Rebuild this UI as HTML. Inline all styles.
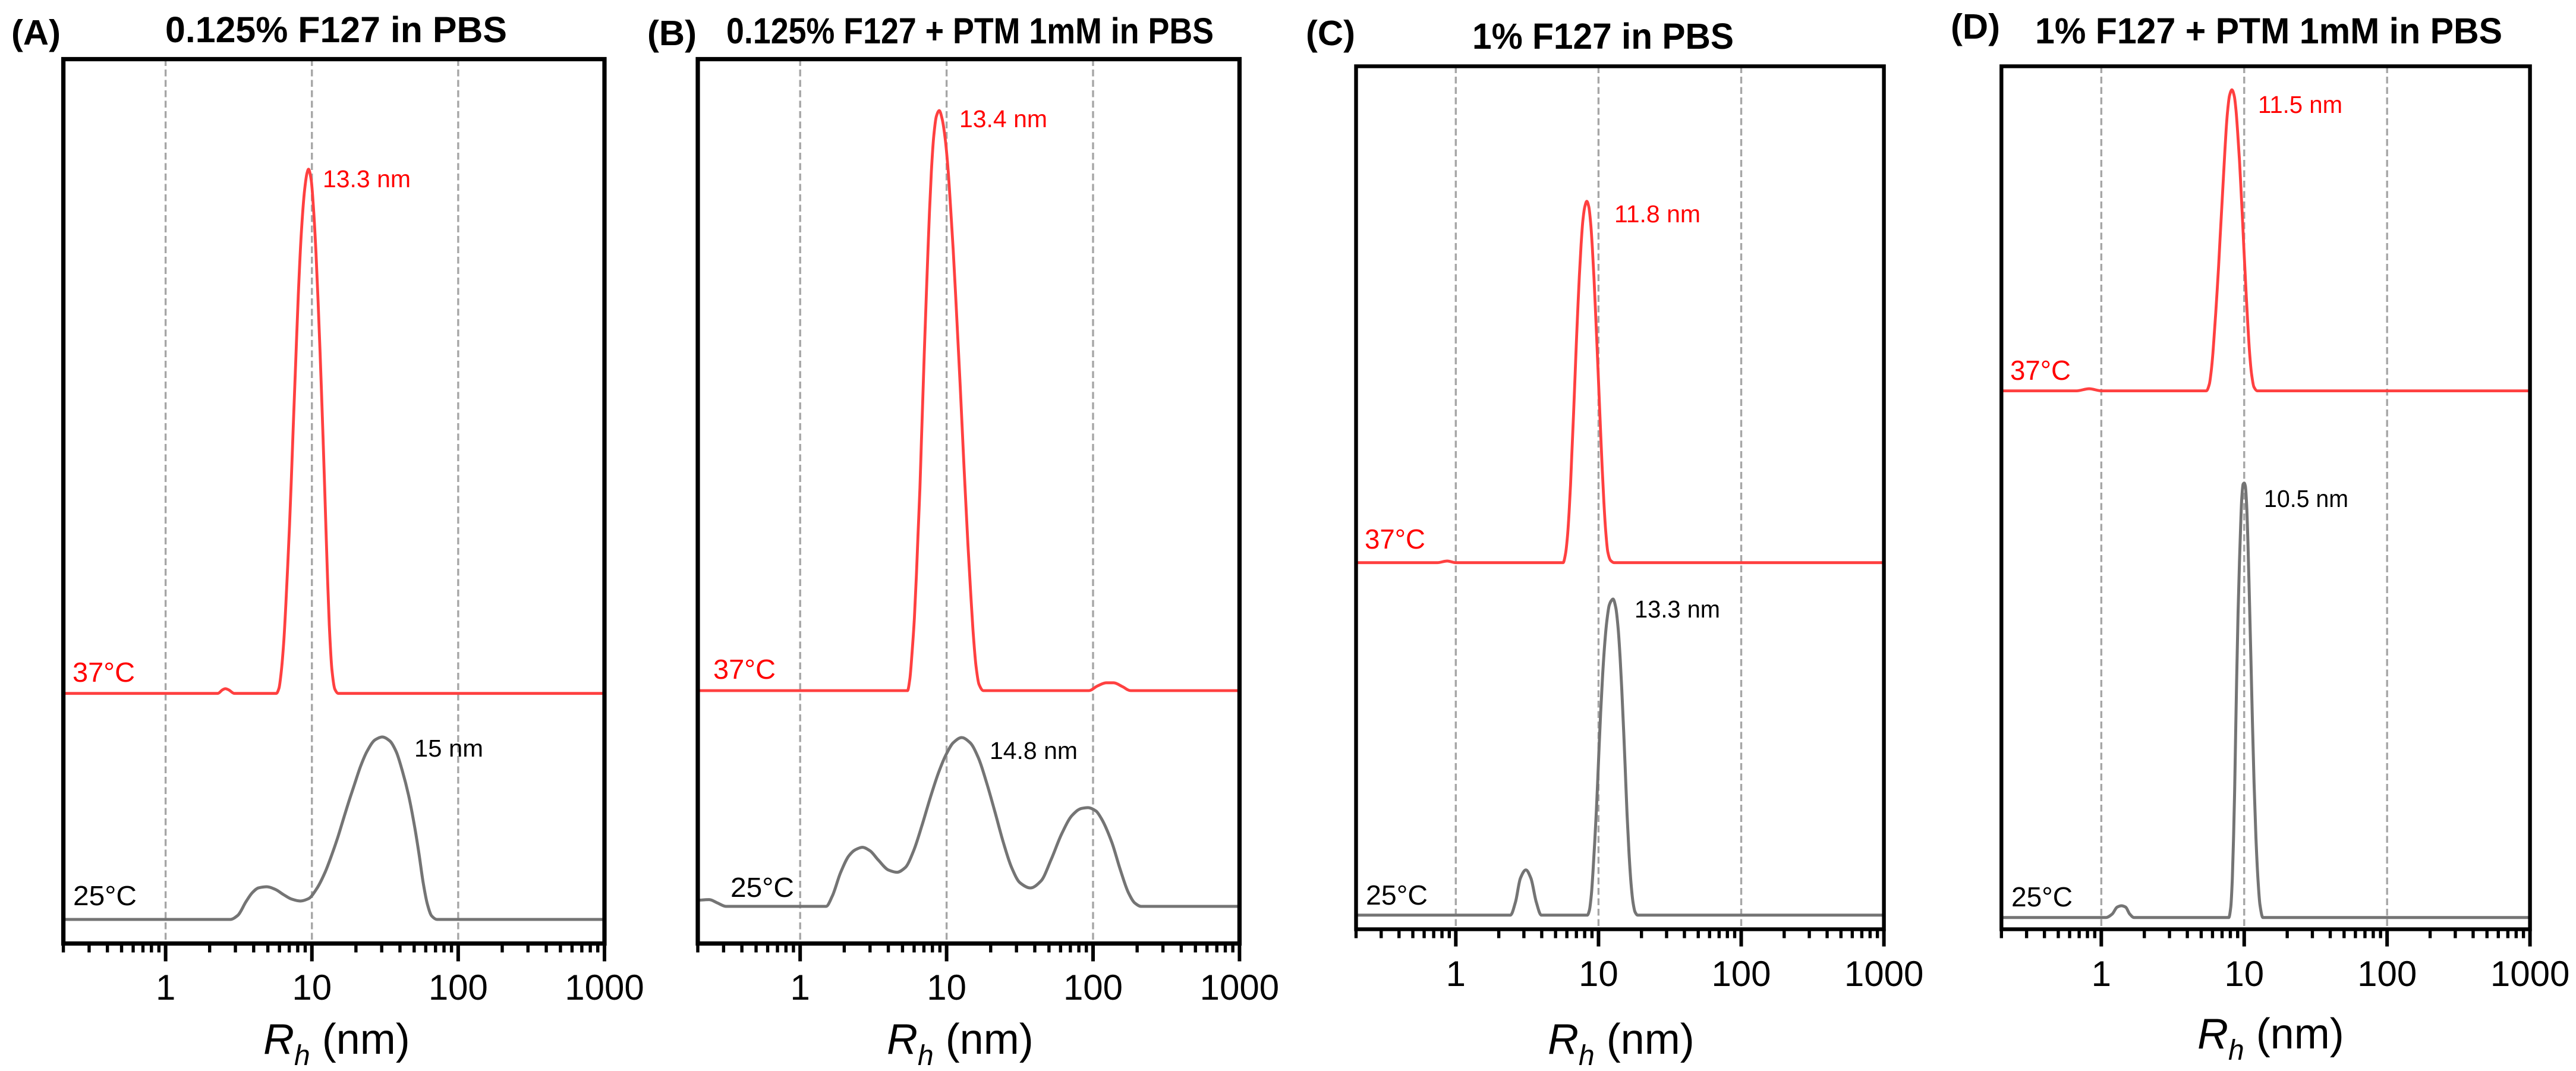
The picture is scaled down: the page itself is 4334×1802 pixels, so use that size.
<!DOCTYPE html>
<html lang="en">
<head>
<meta charset="utf-8">
<title>DLS size distributions of F127 micelles</title>
<style>
  html, body { margin: 0; padding: 0; background: #ffffff; }
  svg { display: block; }
  text { font-family: "Liberation Sans", sans-serif; }
  .title { font-size: 61px; font-weight: bold; fill: #000; }
  .panel-label { font-size: 59px; font-weight: bold; fill: #000; }
  .anno { font-size: 41px; }
  .temp { font-size: 46px; }
  .red { fill: #ff0000; }
  .black { fill: #000; }
  .xtitle { font-size: 72px; fill: #000; }
  .tick-label { font-size: 60px; fill: #000; text-anchor: middle; }
</style>
</head>
<body>
<svg id="figure" xmlns="http://www.w3.org/2000/svg" width="4334" height="1802" viewBox="0 0 4334 1802">
  <rect width="4334" height="1802" fill="#ffffff"/>

  <g id="panel-A"></g>
  <g id="panel-B"></g>
  <g id="panel-C"></g>
  <g id="panel-D"></g>

  <!-- Panel A text -->
  <text class="panel-label" x="19" y="75" textLength="83" lengthAdjust="spacingAndGlyphs">(A)</text>
  <text class="title" x="278" y="71" textLength="575" lengthAdjust="spacingAndGlyphs">0.125% F127 in PBS</text>
  <text class="anno red" x="543" y="315" textLength="148" lengthAdjust="spacingAndGlyphs">13.3 nm</text>
  <text class="anno black" x="697" y="1273" textLength="116" lengthAdjust="spacingAndGlyphs">15 nm</text>
  <text class="temp red" x="122" y="1147" textLength="105" lengthAdjust="spacingAndGlyphs">37°C</text>
  <text class="temp black" x="123" y="1523" textLength="107" lengthAdjust="spacingAndGlyphs">25°C</text>
  <text class="xtitle" x="443" y="1773"><tspan font-style="italic">R</tspan><tspan font-style="italic" font-size="48" dy="19">h</tspan><tspan dy="-19"> (nm)</tspan></text>

  <!-- Panel B text -->
  <text class="panel-label" x="1089" y="76" textLength="83" lengthAdjust="spacingAndGlyphs">(B)</text>
  <text class="title" x="1222" y="73" textLength="820" lengthAdjust="spacingAndGlyphs">0.125% F127 + PTM 1mM in PBS</text>
  <text class="anno red" x="1614" y="214" textLength="148" lengthAdjust="spacingAndGlyphs">13.4 nm</text>
  <text class="anno black" x="1665" y="1277" textLength="148" lengthAdjust="spacingAndGlyphs">14.8 nm</text>
  <text class="temp red" x="1200" y="1142" textLength="105" lengthAdjust="spacingAndGlyphs">37°C</text>
  <text class="temp black" x="1229" y="1509" textLength="107" lengthAdjust="spacingAndGlyphs">25°C</text>
  <text class="xtitle" x="1492" y="1773"><tspan font-style="italic">R</tspan><tspan font-style="italic" font-size="48" dy="19">h</tspan><tspan dy="-19"> (nm)</tspan></text>

  <!-- Panel C text -->
  <text class="panel-label" x="2197" y="76" textLength="83" lengthAdjust="spacingAndGlyphs">(C)</text>
  <text class="title" x="2477" y="82" textLength="440" lengthAdjust="spacingAndGlyphs">1% F127 in PBS</text>
  <text class="anno red" x="2716" y="374" textLength="145" lengthAdjust="spacingAndGlyphs">11.8 nm</text>
  <text class="anno black" x="2750" y="1039" textLength="144" lengthAdjust="spacingAndGlyphs">13.3 nm</text>
  <text class="temp red" x="2296" y="923" textLength="102" lengthAdjust="spacingAndGlyphs">37°C</text>
  <text class="temp black" x="2298" y="1522" textLength="104" lengthAdjust="spacingAndGlyphs">25°C</text>
  <text class="xtitle" x="2604" y="1773"><tspan font-style="italic">R</tspan><tspan font-style="italic" font-size="48" dy="19">h</tspan><tspan dy="-19"> (nm)</tspan></text>

  <!-- Panel D text -->
  <text class="panel-label" x="3282" y="65" textLength="83" lengthAdjust="spacingAndGlyphs">(D)</text>
  <text class="title" x="3424" y="73" textLength="786" lengthAdjust="spacingAndGlyphs">1% F127 + PTM 1mM in PBS</text>
  <text class="anno red" x="3799" y="190" textLength="142" lengthAdjust="spacingAndGlyphs">11.5 nm</text>
  <text class="anno black" x="3809" y="853" textLength="142" lengthAdjust="spacingAndGlyphs">10.5 nm</text>
  <text class="temp red" x="3382" y="639" textLength="102" lengthAdjust="spacingAndGlyphs">37°C</text>
  <text class="temp black" x="3384" y="1525" textLength="103" lengthAdjust="spacingAndGlyphs">25°C</text>
  <text class="xtitle" x="3697" y="1764"><tspan font-style="italic">R</tspan><tspan font-style="italic" font-size="48" dy="19">h</tspan><tspan dy="-19"> (nm)</tspan></text>
</svg>

<script>
// Axis values
const xDomain = [0.2, 1000];
const majorTicks = [1, 10, 100, 1000];
const majorTickLabels = ['1', '10', '100', '1000'];
const minorTicks = [0.2, 0.3, 0.4, 0.5, 0.6, 0.7, 0.8, 0.9, 2, 3, 4, 5, 6, 7, 8, 9, 20, 30, 40, 50, 60, 70, 80, 90, 200, 300, 400, 500, 600, 700, 800, 900];
const gridValues = [1, 10, 100];

// Series: log10(Rh / nm) and intensity relative to the tallest peak (%)
const a37LogRh = [-0.699, 0.356, 0.39, 0.408, 0.43, 0.47, 0.757, 0.775, 0.79, 0.808, 0.822, 0.835, 0.847, 0.859, 0.872, 0.889, 0.907, 0.927, 0.950, 0.967, 0.977, 0.995, 1.011, 1.028, 1.042, 1.056, 1.065, 1.076, 1.087, 1.096, 1.107, 1.119, 1.137, 1.157, 1.180, 3];
const a37Intensity = [0, 0, 0.7, 0.9, 0.7, 0, 0, 1, 4, 10, 17, 24.5, 32, 40.5, 50.5, 63, 76, 87.5, 96, 99.3, 100, 98, 92.5, 84, 75, 65, 58, 49, 39.5, 31.5, 22, 13, 4.5, 0.8, 0, 0];

const a25LogRh = [-0.699, 0.442, 0.493, 0.550, 0.593, 0.635, 0.692, 0.749, 0.806, 0.863, 0.920, 0.977, 1.034, 1.091, 1.134, 1.177, 1.219, 1.262, 1.291, 1.333, 1.376, 1.433, 1.481, 1.533, 1.576, 1.618, 1.661, 1.704, 1.732, 1.761, 1.789, 1.818, 1.855, 3];
const a25Intensity = [0, 0, 2.2, 9.8, 14.7, 17.3, 17.9, 16.5, 13.6, 11.1, 10.1, 11.4, 17, 26, 35, 45, 56, 67, 74, 84, 92, 98.5, 100, 97.8, 92, 81.5, 68, 50, 36, 20, 8.5, 2, 0, 0];

const b37LogRh = [-0.699, 0.733, 0.749, 0.764, 0.780, 0.794, 0.805, 0.818, 0.828, 0.839, 0.848, 0.862, 0.873, 0.883, 0.896, 0.912, 0.930, 0.950, 0.970, 0.991, 1.011, 1.028, 1.045, 1.061, 1.076, 1.092, 1.106, 1.119, 1.133, 1.146, 1.163, 1.180, 1.201, 1.221, 1.251, 1.972, 2.03, 2.09, 2.14, 2.2, 2.256, 3];
const b37Intensity = [0, 0, 2, 6.5, 12.5, 20, 27, 35, 43, 51.5, 58.5, 68.5, 76, 82.5, 89.5, 95.5, 99, 100, 98.5, 95, 89.5, 83, 76, 68.5, 61, 53, 45.5, 38.5, 31.5, 25, 17.5, 10.5, 4.2, 1.1, 0, 0, 0.8, 1.35, 1.35, 0.7, 0, 0];

const b25LogRh = [-0.699, -0.621, -0.564, -0.507, 0.177, 0.219, 0.276, 0.333, 0.376, 0.425, 0.476, 0.533, 0.604, 0.661, 0.718, 0.775, 0.832, 0.889, 0.946, 0.997, 1.046, 1.103, 1.160, 1.217, 1.274, 1.330, 1.387, 1.444, 1.501, 1.573, 1.644, 1.715, 1.786, 1.858, 1.92, 1.966, 2.02, 2.057, 2.128, 2.185, 2.242, 2.285, 2.328, 3];
const b25Intensity = [3.6, 4, 2, 0, 0, 6, 20, 30, 33.5, 35, 33, 27.5, 21.5, 20.2, 23, 33, 48, 64.5, 79.5, 90, 97, 100, 97, 88, 73, 56, 38, 23, 14, 10.9, 15, 28, 43, 54, 58, 58.5, 56.5, 52, 38, 22, 8, 2, 0, 0];

const c37LogRh = [-0.699, -0.13, -0.06, 0, 0.752, 0.769, 0.783, 0.794, 0.804, 0.813, 0.825, 0.836, 0.846, 0.857, 0.866, 0.878, 0.890, 0.904, 0.918, 0.932, 0.946, 0.957, 0.968, 0.979, 0.989, 0.996, 1.006, 1.015, 1.026, 1.038, 1.050, 1.065, 1.085, 1.110, 3];
const c37Intensity = [0, 0, 0.45, 0, 0, 2.5, 7.5, 14, 21.5, 30, 41, 52, 62, 72, 79.5, 88, 94.5, 98.5, 100, 98.5, 93.5, 87, 79, 69.5, 60.5, 54, 44.5, 36, 26, 16.5, 9, 3, 0.6, 0, 0];

const c25LogRh = [-0.699, 0.383, 0.418, 0.453, 0.491, 0.526, 0.564, 0.599, 0.922, 0.936, 0.950, 0.961, 0.974, 0.985, 0.994, 1.004, 1.015, 1.029, 1.043, 1.057, 1.075, 1.09, 1.102, 1.121, 1.138, 1.152, 1.163, 1.177, 1.188, 1.200, 1.214, 1.228, 1.242, 1.256, 1.274, 3];
const c25Intensity = [0, 0, 4.1, 11.7, 14.3, 11.7, 4.1, 0, 0, 1.5, 6.5, 13.5, 23.5, 33, 42, 53, 64, 76, 85.5, 92.5, 98, 99.5, 100, 97.3, 90.5, 81, 71.5, 57.5, 45.5, 32, 19.5, 10, 4, 1, 0, 0];

const d37LogRh = [-0.699, -0.173, -0.085, 0, 0.735, 0.756, 0.769, 0.781, 0.790, 0.801, 0.811, 0.821, 0.831, 0.842, 0.853, 0.864, 0.874, 0.883, 0.897, 0.914, 0.931, 0.943, 0.954, 0.967, 0.978, 0.988, 0.997, 1.006, 1.015, 1.026, 1.038, 1.051, 1.068, 1.092, 3];
const d37Intensity = [0, 0, 0.7, 0, 0, 2.2, 6.5, 12.5, 18.5, 26, 33.5, 41.5, 50.5, 60, 69.5, 79, 87, 92.5, 98, 100, 97.8, 93, 86, 76.5, 66.5, 57, 48, 39.5, 31, 21.5, 12.5, 5.8, 1.3, 0, 0];

const d25LogRh = [-0.699, 0.032, 0.076, 0.111, 0.141, 0.170, 0.199, 0.229, 0.892, 0.906, 0.917, 0.926, 0.933, 0.940, 0.947, 0.957, 0.967, 0.975, 0.983, 0.992, 1.000, 1.008, 1.017, 1.026, 1.036, 1.047, 1.058, 1.069, 1.082, 1.096, 1.110, 1.131, 3];
const d25Intensity = [0, 0, 0.8, 2.4, 2.7, 2.4, 0.8, 0, 0, 2.4, 9, 19, 29, 42, 54.5, 70, 82, 90, 96.5, 99.7, 100, 99.3, 95, 86.5, 74, 59.5, 44.5, 31, 18.5, 9, 3, 0, 0];

// Layout of each panel and the vertical stacking of its two normalized traces
const panels = [
  { key: 'a', gid: 'panel-A', left: 106.6, right: 1017, top: 99.5, bottom: 1587.5, frame: 7.2, majorLen: 30, minorLen: 15, labelY: 1682,
    hot: { x: a37LogRh, y: a37Intensity, base: 1166.7, amp: 882 },
    cold: { x: a25LogRh, y: a25Intensity, base: 1547, amp: 307 } },
  { key: 'b', gid: 'panel-B', left: 1174, right: 2085.4, top: 99.5, bottom: 1587.5, frame: 7.2, majorLen: 30, minorLen: 15, labelY: 1682,
    hot: { x: b37LogRh, y: b37Intensity, base: 1162, amp: 976 },
    cold: { x: b25LogRh, y: b25Intensity, base: 1525, amp: 284 } },
  { key: 'c', gid: 'panel-C', left: 2281.5, right: 3169.6, top: 111.5, bottom: 1563.5, frame: 6.4, majorLen: 29, minorLen: 15, labelY: 1659,
    hot: { x: c37LogRh, y: c37Intensity, base: 946.7, amp: 608 },
    cold: { x: c25LogRh, y: c25Intensity, base: 1539.7, amp: 531.8 } },
  { key: 'd', gid: 'panel-D', left: 3367.3, right: 4256.6, top: 111.5, bottom: 1563.5, frame: 6.4, majorLen: 29, minorLen: 15, labelY: 1659,
    hot: { x: d37LogRh, y: d37Intensity, base: 657.6, amp: 506.6 },
    cold: { x: d25LogRh, y: d25Intensity, base: 1543.8, amp: 731 } }
];

const SVG_NS = 'http://www.w3.org/2000/svg';

function makeEl(tag, parent) {
  const el = document.createElementNS(SVG_NS, tag);
  parent.appendChild(el);
  return el;
}

function xScale(panel, rh) {
  const lo = Math.log10(xDomain[0]);
  const hi = Math.log10(xDomain[1]);
  return panel.left + (Math.log10(rh) - lo) / (hi - lo) * (panel.right - panel.left);
}

function yScale(trace, intensity) {
  return trace.base - intensity / 100 * trace.amp;
}

// Monotone cubic path so flat baselines stay flat between peaks
function monotonePath(px, py) {
  const n = px.length;
  const slopes = [];
  for (let i = 0; i < n - 1; i++) slopes.push((py[i + 1] - py[i]) / (px[i + 1] - px[i]));
  const tang = [slopes[0]];
  for (let i = 1; i < n - 1; i++) {
    if (slopes[i - 1] * slopes[i] <= 0) {
      tang.push(0);
    } else {
      const h0 = px[i] - px[i - 1];
      const h1 = px[i + 1] - px[i];
      const w0 = 2 * h1 + h0;
      const w1 = h1 + 2 * h0;
      tang.push((w0 + w1) / (w0 / slopes[i - 1] + w1 / slopes[i]));
    }
  }
  tang.push(slopes[n - 2]);
  let d = 'M' + px[0].toFixed(2) + ' ' + py[0].toFixed(2);
  for (let i = 0; i < n - 1; i++) {
    const h = (px[i + 1] - px[i]) / 3;
    d += 'C' + (px[i] + h).toFixed(2) + ' ' + (py[i] + tang[i] * h).toFixed(2) + ' ' +
         (px[i + 1] - h).toFixed(2) + ' ' + (py[i + 1] - tang[i + 1] * h).toFixed(2) + ' ' +
         px[i + 1].toFixed(2) + ' ' + py[i + 1].toFixed(2);
  }
  return d;
}

function drawTrace(panel, trace, group, color, width) {
  const px = trace.x.map(function (v) { return xScale(panel, Math.pow(10, v)); });
  const py = trace.y.map(function (v) { return yScale(trace, v); });
  const path = makeEl('path', group);
  path.setAttribute('d', monotonePath(px, py));
  path.setAttribute('fill', 'none');
  path.setAttribute('stroke', color);
  path.setAttribute('stroke-width', width);
  path.setAttribute('stroke-linejoin', 'round');
  return path;
}

panels.forEach(function (panel) {
  const g = document.getElementById(panel.gid);

  gridValues.forEach(function (v) {
    const line = makeEl('line', g);
    
    
    const x = xScale(panel, v);
    line.setAttribute('x1', x);
    line.setAttribute('x2', x);
    line.setAttribute('y1', panel.top);
    line.setAttribute('y2', panel.bottom);
    line.setAttribute('stroke', '#a6a6a6');
    line.setAttribute('stroke-width', 3.4);
    line.setAttribute('stroke-dasharray', '11.5 6');
  });

  const hotPath = drawTrace(panel, panel.hot, g, '#ff4040', 4.8);
  
  

  const coldPath = drawTrace(panel, panel.cold, g, '#747474', 5);
  
  

  const frame = makeEl('rect', g);
  
  
  frame.setAttribute('x', panel.left);
  frame.setAttribute('y', panel.top);
  frame.setAttribute('width', panel.right - panel.left);
  frame.setAttribute('height', panel.bottom - panel.top);
  frame.setAttribute('fill', 'none');
  frame.setAttribute('stroke', '#000');
  frame.setAttribute('stroke-width', panel.frame);

  minorTicks.forEach(function (v) {
    const tick = makeEl('line', g);
    
    
    const x = xScale(panel, v);
    tick.setAttribute('x1', x);
    tick.setAttribute('x2', x);
    tick.setAttribute('y1', panel.bottom);
    tick.setAttribute('y2', panel.bottom + panel.minorLen);
    tick.setAttribute('stroke', '#000');
    tick.setAttribute('stroke-width', 5.4);
  });

  majorTicks.forEach(function (v, i) {
    const tick = makeEl('line', g);
    
    
    const x = xScale(panel, v);
    tick.setAttribute('x1', x);
    tick.setAttribute('x2', x);
    tick.setAttribute('y1', panel.bottom);
    tick.setAttribute('y2', panel.bottom + panel.majorLen);
    tick.setAttribute('stroke', '#000');
    tick.setAttribute('stroke-width', 6);

    const label = makeEl('text', g);
    
    
    label.setAttribute('class', 'tick-label');
    label.setAttribute('x', x);
    label.setAttribute('y', panel.labelY);
    label.textContent = majorTickLabels[i];
  });
});
</script>
</body>
</html>
